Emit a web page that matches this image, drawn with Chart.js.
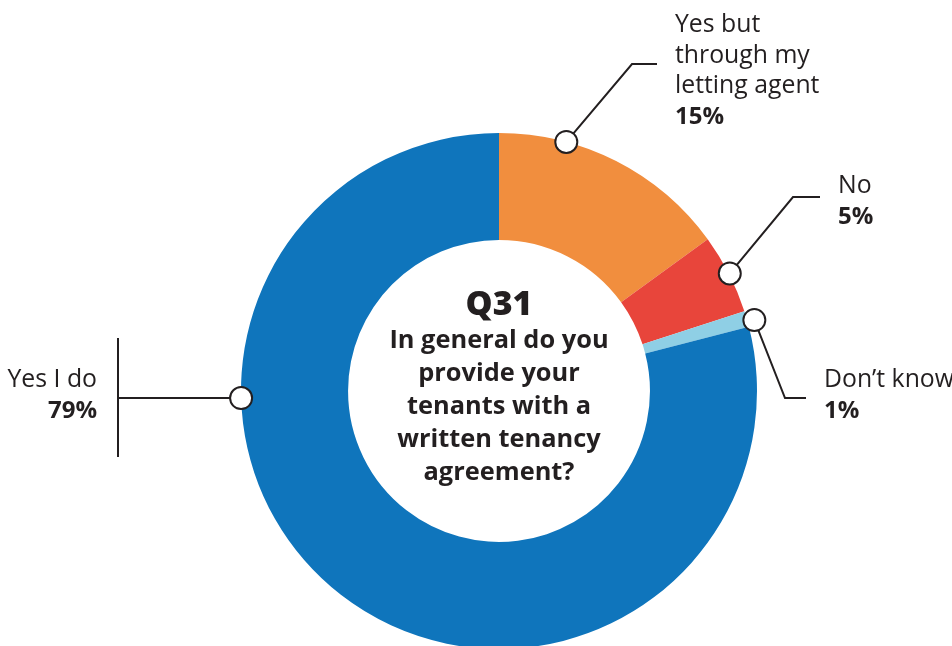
<!DOCTYPE html>
<html>
<head>
<meta charset="utf-8">
<script src="https://cdn.jsdelivr.net/npm/chart.js@4/dist/chart.umd.min.js"></script>
<style>
  html, body { margin: 0; padding: 0; background: #fff; overflow: hidden; }
  #wrap { width: 952px; height: 646px; overflow: hidden; }
</style>
</head>
<body>
<div id="wrap"><canvas id="q31" width="952" height="652"></canvas></div>
<script>
// Q31 answers, clockwise from 12 o'clock
const categories = ['Yes but through my letting agent', 'No', 'Don\u2019t know', 'Yes I do'];
const values = [15, 5, 1, 79];
const sliceColors = ['#F18E3E', '#E8453B', '#8FCFE5', '#0F75BC'];

const question = 'Q31';
const questionLines = ['In general do you', 'provide your', 'tenants with a', 'written tenancy', 'agreement?'];

const INK = '#231F20';
const FONT = '"Open Sans", "Noto Sans", sans-serif';

// Callout layout per slice: where the dot sits along the arc (0..1),
// how far outside the rim, the leader elbow/end and the label block
const callouts = [
  { at: 0.28, out: 0, elbow: [632, 64], end: [657, 64], text: ['Yes but', 'through my', 'letting agent'], tx: 675, ty: 32, align: 'left' },
  { at: 0.5, out: 1, elbow: [793, 197], end: [820, 197], text: ['No'], tx: 838, ty: 193, align: 'left' },
  { at: 0.69, out: 7, elbow: [785, 398], end: [806, 398], text: ['Don\u2019t know'], tx: 824, ty: 387, align: 'left' },
  { at: 0.678, out: 0, elbow: null, end: [118, 398], text: ['Yes I do'], tx: 97, ty: 387, align: 'right', bar: [338, 457] }
];

const calloutPlugin = {
  id: 'callouts',
  afterDraw(chart) {
    const ctx = chart.ctx;
    const arcs = chart.getDatasetMeta(0).data;
    ctx.save();
    ctx.strokeStyle = INK;
    ctx.lineWidth = 2;

    callouts.forEach((c, i) => {
      const arc = arcs[i];
      const a = arc.startAngle + (arc.endAngle - arc.startAngle) * c.at;
      const r = arc.outerRadius + c.out;
      const px = arc.x + Math.cos(a) * r;
      const py = arc.y + Math.sin(a) * r;

      // leader line
      ctx.beginPath();
      ctx.moveTo(px, py);
      if (c.elbow) ctx.lineTo(c.elbow[0], c.elbow[1]);
      ctx.lineTo(c.end[0], c.end[1]);
      ctx.stroke();
      if (c.bar) {
        ctx.beginPath();
        ctx.moveTo(c.end[0], c.bar[0]);
        ctx.lineTo(c.end[0], c.bar[1]);
        ctx.stroke();
      }

      // dot on the rim
      ctx.beginPath();
      ctx.arc(px, py, 11, 0, Math.PI * 2);
      ctx.fillStyle = '#fff';
      ctx.fill();
      ctx.stroke();

      // label + value
      ctx.fillStyle = INK;
      ctx.textAlign = c.align;
      ctx.textBaseline = 'alphabetic';
      ctx.font = '24.8px ' + FONT;
      let y = c.ty;
      c.text.forEach(line => {
        ctx.fillText(line, c.tx, y);
        y += 30.5;
      });
      ctx.font = 'bold 24px ' + FONT;
      ctx.fillText(values[i] + '%', c.tx, y);
    });

    // question in the hole
    const cx = arcs[0].x;
    ctx.textAlign = 'center';
    ctx.fillStyle = INK;
    ctx.font = '800 34px ' + FONT;
    ctx.fillText(question, cx, 315);
    ctx.font = 'bold 25.4px ' + FONT;
    questionLines.forEach((line, k) => ctx.fillText(line, cx, 348 + k * 33));
    ctx.restore();
  }
};

new Chart(document.getElementById('q31'), {
  type: 'doughnut',
  plugins: [calloutPlugin],
  data: {
    labels: categories,
    datasets: [{
      data: values,
      backgroundColor: sliceColors,
      borderWidth: 0,
      hoverOffset: 0
    }]
  },
  options: {
    responsive: false,
    animation: false,
    cutout: '58.5%',
    layout: { padding: { left: 241, right: 195, top: 133, bottom: 3 } },
    plugins: {
      legend: { display: false },
      tooltip: { enabled: false }
    }
  }
});
</script>
</body>
</html>
